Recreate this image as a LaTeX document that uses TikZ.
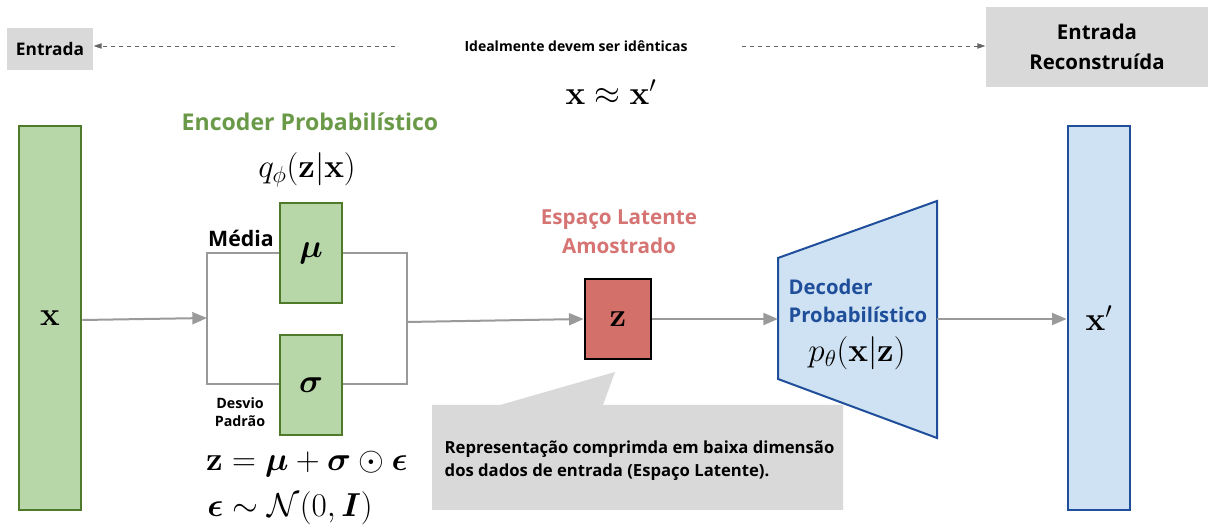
\documentclass[tikz,border=0pt]{standalone}
\usepackage{amsmath,amssymb,bm}
\usepackage[no-math]{fontspec}
\setmainfont{Open Sans}
\usetikzlibrary{arrows.meta,positioning}
\definecolor{boxgray}{HTML}{D9D9D9}
\definecolor{encfill}{HTML}{B7D7A8}
\definecolor{encline}{HTML}{4E7A2A}
\definecolor{enctext}{HTML}{6A9A48}
\definecolor{latfill}{HTML}{D3706A}
\definecolor{lattext}{HTML}{D67474}
\definecolor{decfill}{HTML}{CFE2F3}
\definecolor{decline}{HTML}{1F4E9A}
\definecolor{arrgray}{HTML}{9A9A9A}
\begin{document}
\begin{tikzpicture}[x=0.75pt, y=-0.75pt,
   every node/.style={font=\bfseries},
   graybox/.style={fill=boxgray, inner sep=0pt, align=center},
   bar/.style={draw, line width=1.5pt, minimum width=47pt, minimum height=288pt, inner sep=0pt},
   encbox/.style={draw=encline, fill=encfill, line width=1.5pt, minimum width=47pt, minimum height=75pt, inner sep=0pt},
   flow/.style={draw=arrgray, line width=1.5pt, -{Triangle[length=11pt, width=9pt]}},
   wire/.style={draw=arrgray, line width=1.5pt},
   hint/.style={draw=black!60, dashed, line width=0.6pt, -{Triangle[length=6pt, width=4pt]}},
   mathbig/.style={font=\fontsize{25}{29}\selectfont}]

\useasboundingbox (0,0) rectangle (1208,530);

% top: input vs reconstruction
\node[graybox, minimum width=65pt, minimum height=32pt, font=\bfseries\fontsize{13}{15}\selectfont] (in) at (50,49) {Entrada};
\node[graybox, minimum width=167pt, minimum height=60pt, font=\bfseries\fontsize{15.3}{22.5}\selectfont] (rec) at (1097,47) {Entrada\\Reconstruída};
\node[font=\bfseries\fontsize{10.5}{12}\selectfont] (ideal) at (576,46) {Idealmente devem ser idênticas};
\coordinate (dl) at (395,46);
\coordinate (dr) at (742,46);
\draw[hint] (dl) -- (in.east |- dl);
\draw[hint] (dr) -- (rec.west |- dr);
\node[font=\fontsize{26}{30}\selectfont] (approx) at (611,92) {$\mathbf{x} \approx \mathbf{x}'$};

% input and output bars
\node[bar, draw=encline, fill=encfill] (x) at (50,318) {\fontsize{26}{30}\selectfont$\mathbf{x}$};
\node[bar, draw=decline, fill=decfill] (xr) at (1099,318) {\fontsize{26}{30}\selectfont$\mathbf{x}'$};

% encoder
\node[font=\bfseries\fontsize{17.3}{20}\selectfont, text=enctext] (enc) at (310,122) {Encoder Probabilístico};
\node[font=\fontsize{26}{30}\selectfont] (qphi) at (307,170) {$q_\phi(\mathbf{z}|\mathbf{x})$};
\node[encbox] (mu) at (311,253) {\fontsize{26}{30}\selectfont$\bm{\mu}$};
\node[encbox] (sigma) at (311,385) {\fontsize{26}{30}\selectfont$\bm{\sigma}$};
\node[font=\bfseries\fontsize{16}{18}\selectfont] (media) at (241,238) {Média};
\node[font=\bfseries\fontsize{10.7}{13.5}\selectfont, align=center] (desvio) at (240,412) {Desvio\\Padrão};
\node[mathbig] (reparam) at (307,464) {$\mathbf{z} = \bm{\mu} + \bm{\sigma} \odot \bm{\epsilon}$};
\node[mathbig] (prior) at (290,508) {$\bm{\epsilon} \sim \mathcal{N}(0, \bm{I})$};

\coordinate (sl) at (207,318);
\coordinate (sr) at (407,322);
\draw[wire] (mu.west |- 0,253) -| (sl) |- (sigma.west |- 0,384);
\draw[wire] (mu.east |- 0,253) -| (sr) |- (sigma.east |- 0,384);
\draw[flow] (x.east |- 0,320) -- (sl);

% latent space
\node[font=\bfseries\fontsize{15.5}{22}\selectfont, text=lattext, align=center] (lat) at (619,232) {Espaço Latente\\Amostrado};
\node[draw, fill=latfill, line width=1.5pt, minimum width=50pt, minimum height=60pt, inner sep=0pt] (z) at (618,319) {\fontsize{26}{30}\selectfont$\mathbf{z}$};
\draw[flow] (sr) -- (z.west);

% callout
\fill[boxgray] (432,405) -- (500,405) -- (615,372) -- (603,405) -- (843,405) -- (843,510) -- (432,510) -- cycle;
\node[font=\bfseries\fontsize{12.5}{17}\selectfont, align=left, anchor=west] (note) at (440,461) {Representação comprimda em baixa dimensão\\dos dados de entrada (Espaço Latente).};

% decoder
\coordinate (dec-l) at (778,319);
\coordinate (dec-r) at (937,319);
\draw[draw=decline, fill=decfill, line width=1.5pt] (778,258) -- (937,201) -- (937,438) -- (778,379) -- cycle;
\node[font=\bfseries\fontsize{15.2}{21}\selectfont, text=decline, align=left, anchor=west] (dec) at (784,301) {Decoder\\Probabilístico};
\node[font=\fontsize{26}{30}\selectfont] (ptheta) at (857,353) {$p_\theta(\mathbf{x}|\mathbf{z})$};
\draw[flow] (z.east) -- (dec-l);
\draw[flow] (dec-r) -- (xr.west |- dec-r);

\end{tikzpicture}
\end{document}
